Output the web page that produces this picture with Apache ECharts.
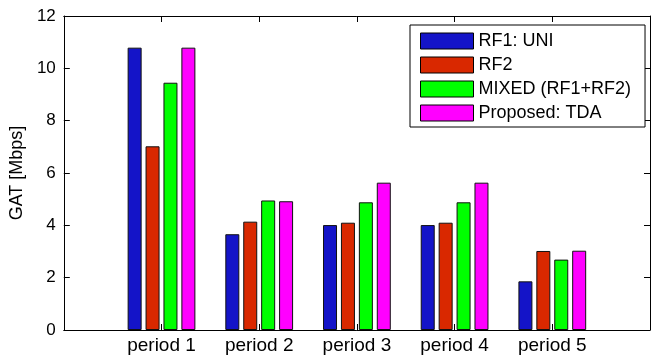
<!DOCTYPE html>
<html>
<head>
<meta charset="utf-8">
<script src="https://cdn.jsdelivr.net/npm/echarts@6/dist/echarts.min.js"></script>
<style>html,body{margin:0;padding:0;background:#fff}#c{width:653px;height:356px}</style>
</head>
<body>
<div id="c"></div>
<script>
const categories = ['', 'period 1', 'period 2', 'period 3', 'period 4', 'period 5', ''];
const seriesNames = ['RF1: UNI', 'RF2', 'MIXED (RF1+RF2)', 'Proposed: TDA'];
const rf1 = [null, 10.79, 3.66, 4.01, 4.01, 1.86, null];
const rf2 = [null, 7.02, 4.14, 4.10, 4.10, 3.02, null];
const mixed = [null, 9.45, 4.95, 4.88, 4.88, 2.69, null];
const tda = [null, 10.79, 4.92, 5.63, 5.63, 3.03, null];
const yTicks = { min: 0, max: 12, interval: 2 };

const colors = ['#1414c8', '#d92800', '#00ff00', '#ff00ff'];
const values = [rf1, rf2, mixed, tda];
const font = 'Liberation Sans, Arial, Helvetica, sans-serif';

const chart = echarts.init(document.getElementById('c'), null, { renderer: 'canvas' });
const axisLine = { show: true, onZero: false, lineStyle: { color: '#000', width: 1 } };
const tick = { show: true, inside: true, length: 6, lineStyle: { color: '#000', width: 1 },
  interval: (i) => i > 0 && i < categories.length - 1 };

chart.setOption({
  animation: false,
  backgroundColor: '#fff',
  textStyle: { fontFamily: font },
  grid: { left: 62, right: -5, top: 16, bottom: 26, containLabel: false },
  legend: {
    orient: 'vertical', left: 410, top: 25,
    data: seriesNames,
    itemWidth: 53, itemHeight: 16, itemGap: 6,
    icon: 'rect',
    padding: [7, 14, 5, 10],
    borderColor: '#000', borderWidth: 1, backgroundColor: '#fff',
    itemStyle: { borderColor: '#000', borderWidth: 1 },
    textStyle: { fontSize: 18, color: '#000', fontFamily: font, lineHeight: 16, padding: 0 }
  },
  xAxis: [
    { type: 'category', data: categories, boundaryGap: false, position: 'bottom',
      axisLine, axisTick: tick,
      axisLabel: { fontSize: 19, color: '#000', margin: 6, interval: 0 },
      splitLine: { show: false } },
    { type: 'category', data: categories, boundaryGap: false, position: 'top',
      axisLine, axisTick: tick, axisLabel: { show: false }, splitLine: { show: false } }
  ],
  yAxis: [
    { type: 'value', min: yTicks.min, max: yTicks.max, interval: yTicks.interval, position: 'left',
      name: 'GAT [Mbps]', nameLocation: 'middle', nameGap: 36, nameRotate: 90,
      nameTextStyle: { fontSize: 18, color: '#000' },
      axisLine, axisTick: { show: true, inside: true, length: 6, lineStyle: { color: '#000' } },
      axisLabel: { fontSize: 17, color: '#000', margin: 8 },
      splitLine: { show: false } },
    { type: 'value', min: yTicks.min, max: yTicks.max, interval: yTicks.interval, position: 'right',
      axisLine, axisTick: { show: true, inside: true, length: 6, lineStyle: { color: '#000' } },
      axisLabel: { show: false }, splitLine: { show: false } }
  ],
  series: seriesNames.map((n, i) => ({
    name: n, type: 'bar', data: values[i], barWidth: 14, barGap: '28%',
    itemStyle: { color: colors[i], borderColor: '#111', borderWidth: 1 }
  }))
});
</script>
</body>
</html>
